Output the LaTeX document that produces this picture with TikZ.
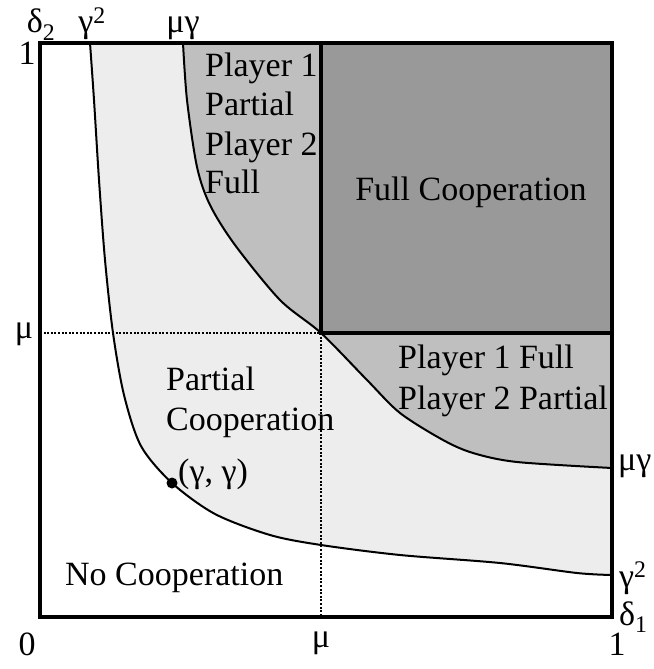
\documentclass[tikz,border=0pt]{standalone}
\usepackage{fontspec}
\setmainfont{Liberation Serif}
\definecolor{lightg}{gray}{0.93}
\definecolor{midg}{gray}{0.75}
\definecolor{darkg}{gray}{0.6}
\begin{document}
\begin{tikzpicture}[x=1pt,y=-1pt,
  lbl/.style={inner sep=0pt, anchor=base west, font=\fontsize{34}{40}\selectfont},
  clbl/.style={inner sep=0pt, anchor=base, font=\fontsize{34}{40}\selectfont},
  boxline/.style={line width=3.8pt, line cap=rect},
  inner/.style={line width=3.2pt},
  curve/.style={line width=2pt},
  guide/.style={line width=2.2pt, dash pattern=on 2pt off 1.6pt}]
\useasboundingbox (0,0) rectangle (653,669);
\coordinate (TL) at (40,43);
\coordinate (TR) at (612,43);
\coordinate (BR) at (612,617);
\coordinate (BL) at (40,617);
\coordinate (M) at (321,333);
\coordinate (Mt) at (321,43);
\coordinate (Mr) at (612,333);
\coordinate (Mb) at (321,617);
\coordinate (Ml) at (40,333);
\def\lowercurve{(90,43) (94,100) (99,180) (105,260) (113,333) (124,395) (141,446) (172,483) (215,514) (270,535) (321,545) (400,555) (500,563) (577,573) (612,575)}
\def\uppercurve{(183,43) (187,100) (197,167) (210,205) (235,245) (280,300) (M) (367,380) (400,413) (443,440) (473,453) (517,462) (612,468)}
% regions
\fill[lightg] plot[smooth] coordinates {\lowercurve} -- (TR) -- cycle;
\fill[midg] plot[smooth] coordinates {\uppercurve} -- (TR) -- cycle;
\fill[darkg] (Mt) rectangle (Mr);
% guides
\draw[guide] (Ml) -- (M);
\draw[guide] (M) -- (Mb);
% curves
\draw[curve] plot[smooth] coordinates {\lowercurve};
\draw[curve] plot[smooth] coordinates {\uppercurve};
% full cooperation borders
\draw[inner] (Mt) -- (M) -- (Mr);
% box
\draw[boxline] (TL) rectangle (BR);
% point
\node[circle, fill=black, inner sep=0pt, minimum size=11pt] (gg) at (172,483) {};
% region labels
\node[lbl] (p1a) at (205,77) {Player 1};
\node[lbl] (p1b) at (205,115) {Partial};
\node[lbl] (p1c) at (205,155) {Player 2};
\node[lbl] (p1d) at (205,193) {Full};
\node[clbl] (fc) at (471,200) {Full Cooperation};
\node[lbl] (p2a) at (398,368) {Player 1 Full};
\node[lbl] (p2b) at (398,409) {Player 2 Partial};
\node[lbl] (pca) at (166,390) {Partial};
\node[lbl] (pcb) at (166,430) {Cooperation};
\node[lbl] (ggl) at (178,482) {(γ, γ)};
\node[lbl] (nc) at (65,585) {No Cooperation};
% axis labels
\node[clbl] (d2) at (41,33) {δ\textsubscript{2}};
\node[clbl] (g2t) at (92,33) {γ\textsuperscript{2}};
\node[clbl] (mgt) at (183,33) {μγ};
\node[clbl] (one1) at (27,65) {1};
\node[clbl] (mul) at (24,338) {μ};
\node[clbl] (zero) at (27,655) {0};
\node[clbl] (mub) at (321,647) {μ};
\node[clbl] (oneb) at (617,655) {1};
\node[lbl] (d1) at (619,625) {δ\textsubscript{1}};
\node[lbl] (g2r) at (619,587) {γ\textsuperscript{2}};
\node[lbl] (mgr) at (618,470) {μγ};
\end{tikzpicture}
\end{document}
